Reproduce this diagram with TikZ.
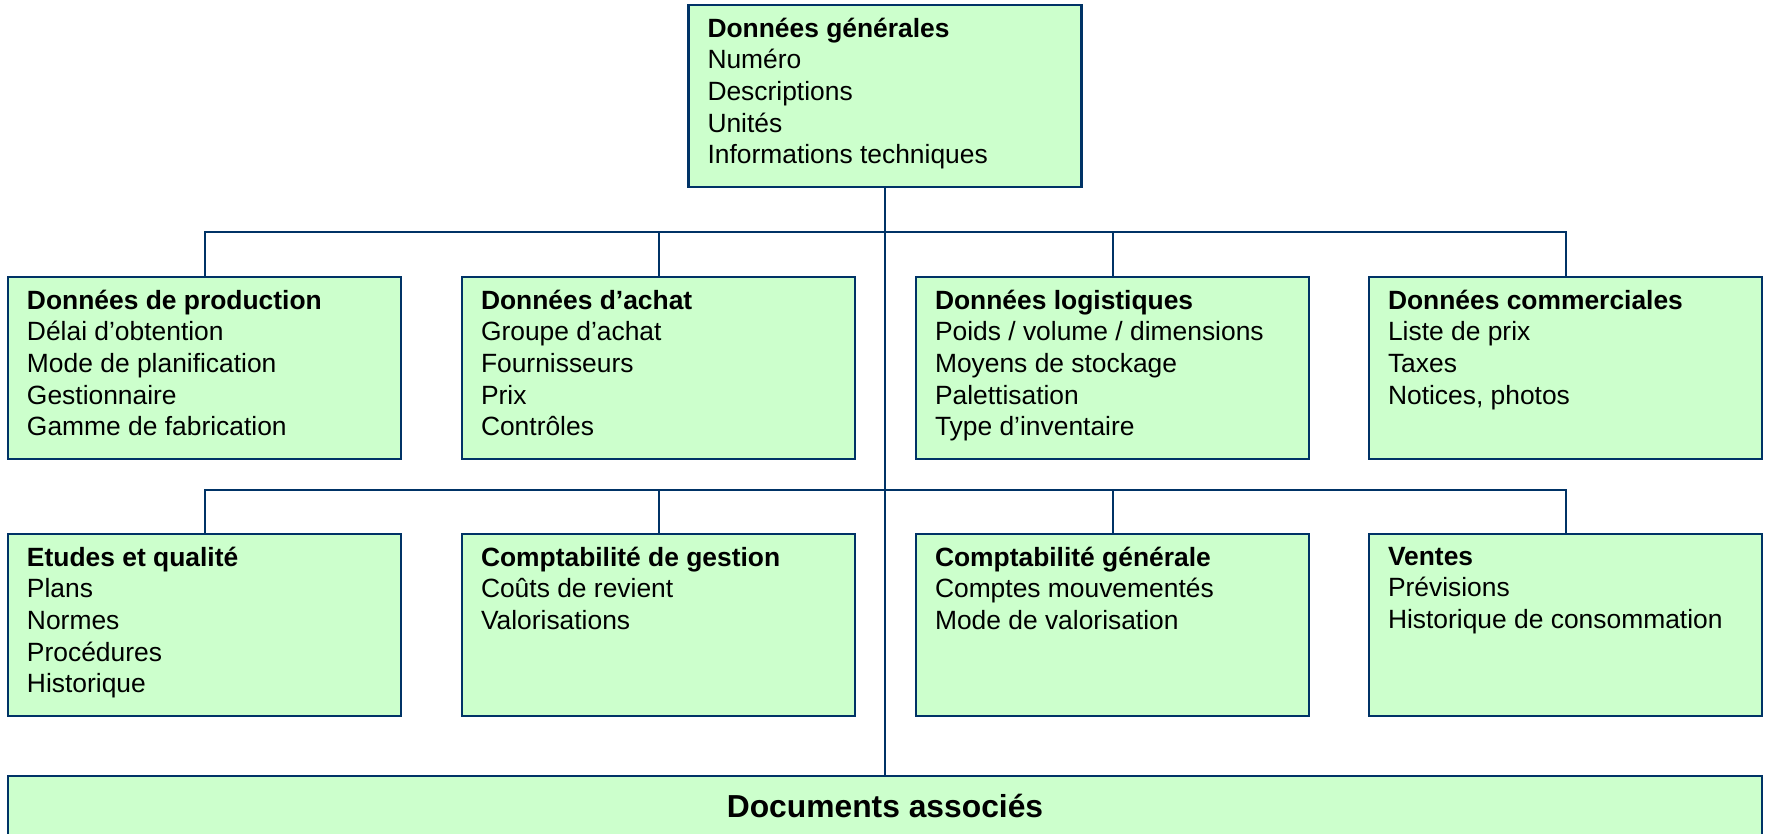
\documentclass[tikz,border=0pt]{standalone}
\usepackage{fontspec}
\setmainfont{Liberation Sans}
\definecolor{boxfill}{HTML}{CCFFCC}
\definecolor{boxline}{HTML}{003366}
\begin{document}
\begin{tikzpicture}[x=1pt, y=-1pt,
  box/.style={rectangle, draw=boxline, fill=boxfill, line width=2.4pt, inner sep=0pt, minimum width=393pt, minimum height=182pt},
  txt/.style={anchor=north west, inner sep=0pt, align=left, font=\fontsize{26.4}{31.6}\selectfont, execute at begin node=\strut},
  wire/.style={draw=boxline, line width=2pt}]
\clip (0,0) rectangle (1767,834);
\node[box] (gen) at (885,96){};
\node[box] (prod) at (204.5,368){};
\node[box] (achat) at (658.5,368){};
\node[box] (logi) at (1112.5,368){};
\node[box] (comm) at (1565.5,368){};
\node[box] (etud) at (204.5,625){};
\node[box] (cgest) at (658.5,625){};
\node[box] (cgen) at (1112.5,625){};
\node[box] (vent) at (1565.5,625){};
\node[box, minimum width=1754pt, minimum height=90pt] (docs) at (885,821){};
\coordinate (bus1) at (885,232);
\coordinate (bus2) at (885,490);
\draw[wire] (gen.south) -- (docs.north);
\draw[wire] (prod.north) |- (bus1) -| (comm.north);
\draw[wire] (achat.north) -- (achat.north |- bus1);
\draw[wire] (logi.north) -- (logi.north |- bus1);
\draw[wire] (etud.north) |- (bus2) -| (vent.north);
\draw[wire] (cgest.north) -- (cgest.north |- bus2);
\draw[wire] (cgen.north) -- (cgen.north |- bus2);
\node[txt] (gen-t) at ([shift={(20,14)}]gen.north west){\textbf{Données générales}\\Numéro\\Descriptions\\Unités\\Informations techniques};
\node[txt] (prod-t) at ([shift={(20,14)}]prod.north west){\textbf{Données de production}\\Délai d’obtention\\Mode de planification\\Gestionnaire\\Gamme de fabrication};
\node[txt] (achat-t) at ([shift={(20,14)}]achat.north west){\textbf{Données d’achat}\\Groupe d’achat\\Fournisseurs\\Prix\\Contrôles};
\node[txt] (logi-t) at ([shift={(20,14)}]logi.north west){\textbf{Données logistiques}\\Poids / volume / dimensions\\Moyens de stockage\\Palettisation\\Type d’inventaire};
\node[txt] (comm-t) at ([shift={(20,14)}]comm.north west){\textbf{Données commerciales}\\Liste de prix\\Taxes\\Notices, photos};
\node[txt] (etud-t) at ([shift={(20,14)}]etud.north west){\textbf{Etudes et qualité}\\Plans\\Normes\\Procédures\\Historique};
\node[txt] (cgest-t) at ([shift={(20,14)}]cgest.north west){\textbf{Comptabilité de gestion}\\Coûts de revient\\Valorisations};
\node[txt] (cgen-t) at ([shift={(20,14)}]cgen.north west){\textbf{Comptabilité générale}\\Comptes mouvementés\\Mode de valorisation};
\node[txt] (vent-t) at ([shift={(20,14)}]vent.north west){\textbf{Ventes}\\Prévisions\\Historique de consommation};
\node[anchor=base, inner sep=0pt, font=\fontsize{31.8}{38}\selectfont\bfseries] (docs-t) at ([shift={(0,43)}]docs.north){Documents associés};
\end{tikzpicture}
\end{document}
